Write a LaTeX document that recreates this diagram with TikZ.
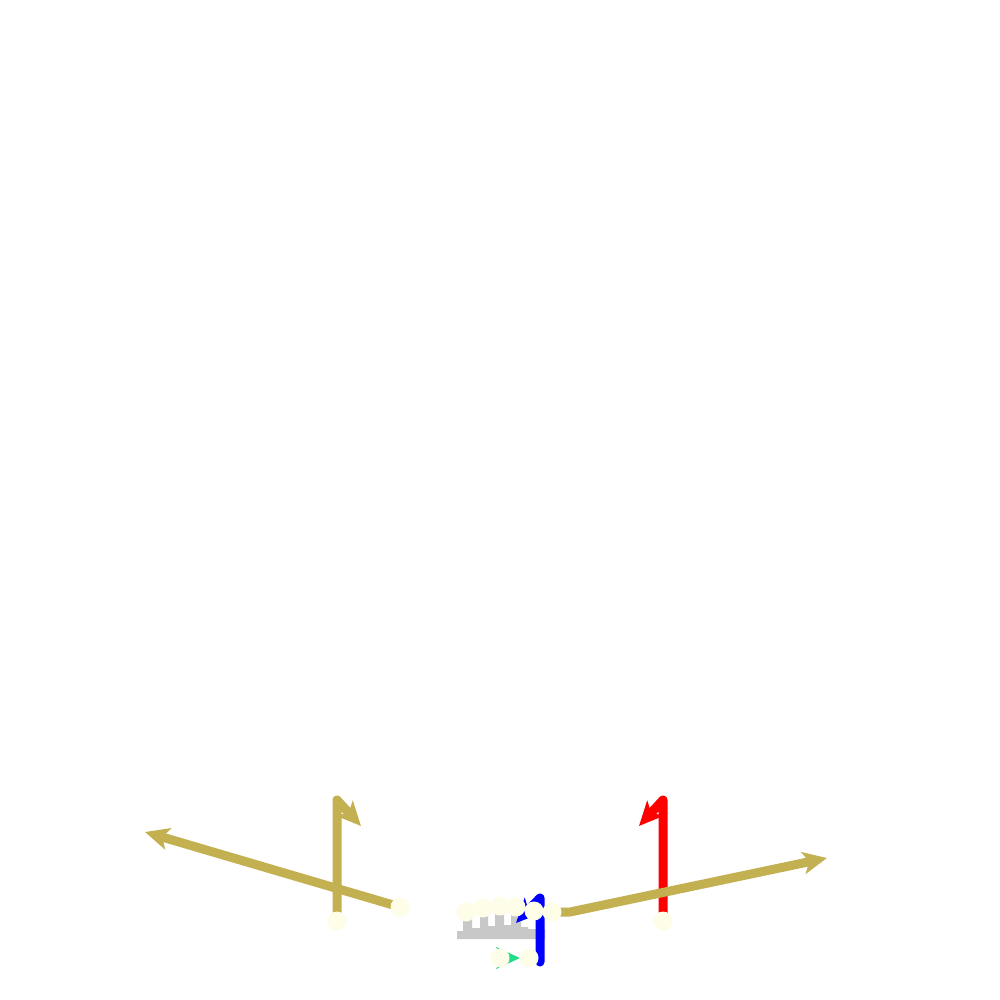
\documentclass[tikz,border=0pt]{standalone}
\usetikzlibrary{arrows.meta}
\definecolor{gold}{RGB}{195,176,80}
\definecolor{cream}{RGB}{254,254,232}
\definecolor{combgray}{RGB}{200,200,200}
\definecolor{mint}{RGB}{34,221,136}
\tikzset{
  dot/.style={circle,fill=cream,draw=none,minimum size=9.5pt,inner sep=0pt},
  wire/.style={line width=4.5pt,line cap=round,line join=round,
    -{Stealth[length=12pt,width=11pt,inset=3pt]}},
}
\begin{document}
\begin{tikzpicture}[x=0.5pt,y=-0.5pt]
\useasboundingbox[fill=white] (0,0) rectangle (1000,1000);
% gray comb
\fill[combgray] (457,939) -- (457,931) -- (463,931) -- (463,915) -- (472,915) -- (472,928)
 -- (480,928) -- (480,914) -- (488,914) -- (488,926) -- (495,926) -- (495,912) -- (504,912)
 -- (504,925) -- (511,925) -- (511,914) -- (521,914) -- (521,927) -- (528,927) -- (528,929)
 -- (545,929) -- (545,939) -- cycle;
% node positions
\coordinate (pA) at (400,907);
\coordinate (pB) at (337,921);
\coordinate (pC) at (663,921);
\coordinate (pD) at (552,912);
\coordinate (pG1) at (500,958);
\coordinate (pG2) at (529,958);
\coordinate (pBl) at (540,962);
% free ends
\coordinate (tL) at (145,832);
\coordinate (topB) at (337,800);
\coordinate (tipB) at (361,826);
\coordinate (topC) at (663,800);
\coordinate (tipC) at (639,826);
\coordinate (bend) at (570,912);
\coordinate (tR) at (827,858);
\coordinate (topBl) at (540,898);
\coordinate (tipBl) at (516,923);
\coordinate (tipG) at (520,958);
% connectors
\draw[wire,gold] (pA) -- (tL);
\draw[wire,gold] (pB) -- (topB) -- (tipB);
\draw[wire,red] (pC) -- (topC) -- (tipC);
\draw[wire,gold] (pD) -- (bend) -- (tR);
\draw[wire,blue] (pBl) -- (topBl) -- (tipBl);
\draw[mint,line width=1.5pt,-{Stealth[length=12pt,width=11pt]}] (pG1) -- (tipG);
% circles
\node[dot] (a) at (pA) {};
\node[dot] (b) at (pB) {};
\node[dot] (c) at (pC) {};
\node[dot] (m1) at (466,912) {};
\node[dot] (m2) at (483,908) {};
\node[dot] (m3) at (500,906) {};
\node[dot] (m4) at (516,907) {};
\node[dot] (m5) at (534,911) {};
\node[dot] (d) at (pD) {};
\node[dot] (g1) at (pG1) {};
\node[dot] (g2) at (pG2) {};
\end{tikzpicture}
\end{document}
